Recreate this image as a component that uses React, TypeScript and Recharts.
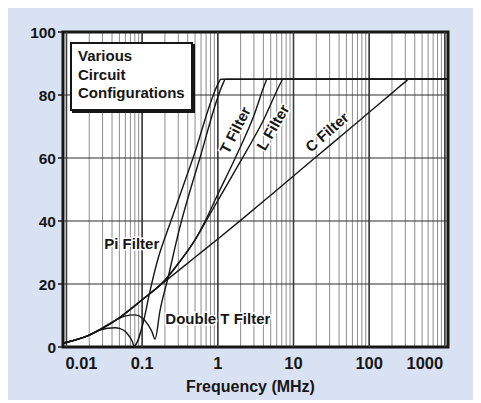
import React from 'react'
import {
  LineChart,
  Line,
  XAxis,
  YAxis,
  CartesianGrid,
  ReferenceLine,
  ReferenceArea,
  ReferenceDot,
} from 'recharts'

const FONT = '"Liberation Sans", Arial, Helvetica, sans-serif'
const INK = '#161616'

// axis ticks
const decades = [0.01, 0.1, 1, 10, 100, 1000]
const gridTicks = decades.flatMap((d) => (d === 1000 ? [d] : [1, 2, 3, 4, 5, 6, 7, 8, 9].map((k) => k * d)))
const levelTicks = [0, 20, 40, 60, 80, 100]
const levelLines = [20, 40, 60, 80]

// insertion loss (dB) vs frequency (MHz)
const cFreq = [0.009, 0.02, 0.05, 0.1, 0.2, 0.5, 1, 2, 5, 10, 20, 50, 100, 200, 310, 330, 1100]
const cLoss = [1.2, 3.8, 9.3, 15, 20.8, 28.5, 34.3, 40.2, 48.2, 54.3, 60.4, 68.4, 74.5, 80.6, 84.5, 85, 85]

const lFreq = [0.009, 0.02, 0.05, 0.1, 0.2, 0.3, 0.5, 0.7, 1, 2, 4, 6.9, 7.2, 1100]
const lLoss = [1.2, 3.8, 9.3, 15, 21.2, 26.5, 34, 40, 46.5, 59, 72, 84.2, 85, 85]

const tFreq = [0.009, 0.02, 0.05, 0.1, 0.2, 0.3, 0.5, 0.68, 1, 1.7, 3, 4.3, 4.45, 1100]
const tLoss = [1.2, 3.8, 9.3, 15, 21.2, 26.5, 34, 40, 48.5, 60, 73.5, 84.2, 85, 85]

const piFreq = [0.009, 0.02, 0.0277, 0.044, 0.05, 0.06, 0.068, 0.074, 0.078, 0.104, 0.125, 0.162, 0.24, 0.47, 1.03, 1.09, 1100]
const piLoss = [1.2, 3.8, 5.4, 6.1, 5.9, 4.9, 3.3, 1.8, 0.3, 8, 17, 28, 40, 60, 84, 85, 85]

const dtFreq = [0.009, 0.02, 0.05, 0.059, 0.08, 0.1, 0.12, 0.135, 0.148, 0.172, 0.22, 0.3, 0.58, 1.19, 1.25, 1100]
const dtLoss = [1.2, 3.8, 9.1, 9.8, 10.2, 9.3, 7, 4.8, 2.5, 11.5, 22, 36, 60, 84, 85, 85]

const toPoints = (f: number[], db: number[]) => f.map((x, i) => ({ f: x, db: db[i] }))

const series = [
  { name: 'C Filter', data: toPoints(cFreq, cLoss) },
  { name: 'L Filter', data: toPoints(lFreq, lLoss) },
  { name: 'T Filter', data: toPoints(tFreq, tLoss) },
  { name: 'Pi Filter', data: toPoints(piFreq, piLoss) },
  { name: 'Double T Filter', data: toPoints(dtFreq, dtLoss) },
]

// curve labels, placed in data coordinates
const ANNOTATIONS = [
  { text: 'T Filter', f: 1.68, db: 68.9, angle: -63 },
  { text: 'L Filter', f: 5.3, db: 69.8, angle: -60 },
  { text: 'C Filter', f: 27.6, db: 68.3, angle: -41 },
  { text: 'Pi Filter', f: 0.073, db: 32.7, angle: 0 },
  { text: 'Double T Filter', f: 1.0, db: 9.2, angle: 0 },
]

// edge labels sit inside the frame in the original
const labelShift: Record<number, number> = { 0.01: 15, 1000: -20 }

function FreqTick(props: any) {
  const { x, y, payload } = props
  const v = payload?.value
  if (!decades.includes(v)) return <g />
  return (
    <text
      x={x + (labelShift[v] ?? 0)}
      y={y}
      dy="0.71em"
      textAnchor="middle"
      fill={INK}
      fontSize={16.5}
      fontWeight={700}
      fontFamily={FONT}
    >
      {String(v)}
    </text>
  )
}

const W = 473
const H = 392

export default function App() {
  return (
    <div style={{ position: 'relative', width: W, height: H, background: '#d9e2f3', fontFamily: FONT }}>
      <style>{'html,body{overflow:hidden}'}</style>
      <LineChart width={W} height={H} margin={{ top: 24, right: 33, bottom: 0, left: 0 }}>
        <CartesianGrid horizontal={false} stroke="#8c8c8c" strokeWidth={1} fill="#ffffff" />
        <XAxis
          dataKey="f"
          type="number"
          scale="log"
          domain={[0.009, 1100]}
          allowDataOverflow
          ticks={gridTicks}
          interval={0}
          tick={(p: any) => <FreqTick {...p} />}
          tickLine={false}
          axisLine={false}
          tickSize={0}
          tickMargin={10}
          height={53}
          label={{
            value: 'Frequency (MHz)',
            position: 'insideBottom',
            offset: 8,
            dx: -5,
            fill: INK,
            fontSize: 16,
            fontWeight: 700,
            fontFamily: FONT,
          }}
        />
        <YAxis
          type="number"
          domain={[0, 100]}
          ticks={levelTicks}
          interval={0}
          width={55}
          tickSize={5}
          tickMargin={2}
          axisLine={false}
          tickLine={{ stroke: INK, strokeWidth: 1.5 }}
          tick={{ fill: INK, fontSize: 15.5, fontWeight: 700, fontFamily: FONT }}
        />
        {decades.map((d) => (
          <ReferenceLine key={`d-${d}`} x={d} stroke="#3c3c3c" strokeWidth={1.6} />
        ))}
        {levelLines.map((v) => (
          <ReferenceLine key={`h-${v}`} y={v} stroke="#2e2e2e" strokeWidth={1.2} />
        ))}
        {series.map((s) => (
          <Line
            key={s.name}
            data={s.data}
            dataKey="db"
            name={s.name}
            type="monotone"
            stroke={INK}
            strokeWidth={1.4}
            dot={false}
            activeDot={false}
            isAnimationActive={false}
          />
        ))}
        <ReferenceArea x1={0.009} x2={1100} y1={0} y2={100} fill="none" fillOpacity={0} stroke={INK} strokeWidth={3} />
        {ANNOTATIONS.map((a) => (
          <ReferenceDot
            key={a.text}
            x={a.f}
            y={a.db}
            r={1}
            ifOverflow="visible"
            shape={(p: any) => (
              <text
                x={p.cx}
                y={p.cy}
                transform={`rotate(${a.angle} ${p.cx} ${p.cy})`}
                textAnchor="middle"
                dominantBaseline="central"
                fill={INK}
                stroke="#ffffff"
                strokeWidth={3}
                paintOrder="stroke"
                fontSize={15}
                fontWeight={700}
                fontFamily={FONT}
              >
                {a.text}
              </text>
            )}
          />
        ))}
      </LineChart>
      <div
        style={{
          position: 'absolute',
          left: 62,
          top: 34,
          width: 123,
          height: 69,
          boxSizing: 'border-box',
          border: `2px solid ${INK}`,
          boxShadow: `2px 2px 0 ${INK}`,
          background: '#ffffff',
          padding: '3px 0 0 6px',
          fontSize: 15,
          fontWeight: 700,
          lineHeight: '18.5px',
          color: INK,
        }}
      >
        <div>Various</div>
        <div>Circuit</div>
        <div>Configurations</div>
      </div>
    </div>
  )
}
